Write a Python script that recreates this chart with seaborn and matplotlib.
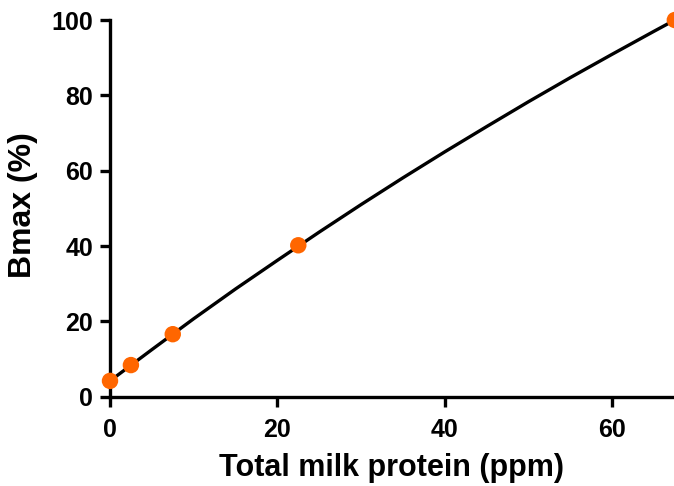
import matplotlib
matplotlib.use("Agg")
import matplotlib.pyplot as plt
import seaborn as sns
import pandas as pd

# Measured points
protein_ppm = [0, 2.5, 7.5, 22.5, 67.5]
bmax_pct = [4.2, 8.4, 16.6, 40.2, 100]

# Fitted curve, values
curve_x = [0, 5, 10, 15, 20, 25, 30, 35, 40, 45, 50, 55, 60, 65, 67.5]
curve_y = [4.2, 12.5, 20.7, 28.6, 36.2, 43.7, 51.0, 58.1, 65.0, 71.7, 78.3, 84.7, 90.9, 97.0, 100]

x_ticks = [0, 20, 40, 60]
y_ticks = [0, 20, 40, 60, 80, 100]

sns.set_style("ticks")
plt.rcParams['font.family'] = ['Liberation Sans', 'DejaVu Sans']
plt.rcParams['font.weight'] = 'bold'
plt.rcParams['text.color'] = 'black'
plt.rcParams['axes.labelcolor'] = 'black'
plt.rcParams['xtick.color'] = 'black'
plt.rcParams['ytick.color'] = 'black'
plt.rcParams['axes.edgecolor'] = 'black'

fig = plt.figure(figsize=(6.74, 4.86), dpi=100)
ax = fig.add_axes([0.1632, 0.1837, 0.8368, 0.7751])

pts = pd.DataFrame({"x": protein_ppm, "y": bmax_pct})
fit = pd.DataFrame({"x": curve_x, "y": curve_y})

sns.lineplot(data=fit, x="x", y="y", ax=ax, color="black", linewidth=2.4, zorder=2)
sns.scatterplot(data=pts, x="x", y="y", ax=ax, color="#FF6600", s=140,
                edgecolor="none", zorder=3)
for c in ax.collections:
    c.set_clip_on(False)

ax.set_xlim(0, 67.4)
ax.set_ylim(0, 100)
ax.set_xticks(x_ticks)
ax.set_yticks(y_ticks)
sns.despine(ax=ax)
for sp in ["left", "bottom"]:
    ax.spines[sp].set_linewidth(2.4)
    ax.spines[sp].set_color("black")
ax.tick_params(axis="both", width=2.4, length=7, colors="black", labelsize=18)
ax.tick_params(axis="x", pad=8)
ax.tick_params(axis="y", pad=5)
for lab in ax.get_xticklabels() + ax.get_yticklabels():
    lab.set_fontweight("bold")

ax.set_xlabel("Total milk protein (ppm)", fontsize=22, fontweight="bold", labelpad=8)
ax.set_ylabel("Bmax (%)", fontsize=23, fontweight="bold")
ax.yaxis.set_label_coords(-0.127, 0.51)

fig.savefig("out.png", dpi=100)
